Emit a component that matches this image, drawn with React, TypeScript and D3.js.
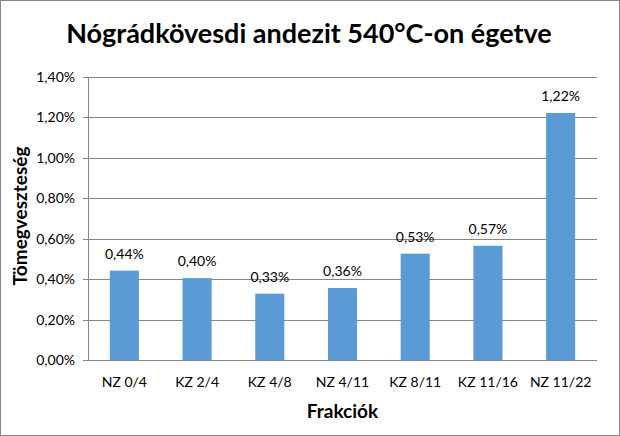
import React from "react";
import * as d3 from "d3";

const categories = ["NZ 0/4", "KZ 2/4", "KZ 4/8", "NZ 4/11", "KZ 8/11", "KZ 11/16", "NZ 11/22"];
const values = [0.442, 0.405, 0.328, 0.356, 0.526, 0.565, 1.222];
const labels = ["0,44%", "0,40%", "0,33%", "0,36%", "0,53%", "0,57%", "1,22%"];
const yTicks = [0, 0.2, 0.4, 0.6, 0.8, 1.0, 1.2, 1.4];

const W = 620, H = 436;
const left = 88, right = 597, top = 77, bottom = 360;
const font = "Lato, 'Open Sans', sans-serif";

export default function App() {
  const x = d3.scaleBand<string>().domain(categories).range([left, right]).paddingInner(0.6).paddingOuter(0.3);
  const y = d3.scaleLinear().domain([0, 1.4]).range([bottom, top]);
  const fmt = (v: number) => d3.format(".2f")(v).replace(".", ",") + "%";
  return (
    <svg width={W} height={H} style={{ position: "absolute", left: 0, top: 0 }} xmlns="http://www.w3.org/2000/svg">
      <rect x={0.5} y={0.5} width={W - 1} height={H - 1} fill="#fff" stroke="#868686" />
      <text x={W / 2 - 1} y={43} textAnchor="middle" fontFamily={font} fontWeight="bold" fontSize={27} fill="#000">
        Nógrádkövesdi andezit 540°C-on égetve
      </text>
      {yTicks.map((t) => (
        <g key={t}>
          <line x1={left - 5} x2={right} y1={Math.round(y(t)) + 0.5} y2={Math.round(y(t)) + 0.5} stroke="#868686" strokeWidth={1} />
          <text x={75} y={y(t) + 5} textAnchor="end" fontFamily={font} fontSize={14} fill="#000">
            {fmt(t)}
          </text>
        </g>
      ))}
      <line x1={left + 0.5} x2={left + 0.5} y1={top} y2={bottom} stroke="#868686" />
      {categories.map((c, i) => (
        <g key={c}>
          <rect x={x(c)!} y={y(values[i])} width={x.bandwidth()} height={bottom - y(values[i])} fill="#5b9bd5" />
          <text x={x(c)! + x.bandwidth() / 2} y={y(values[i]) - 12} textAnchor="middle" fontFamily={font} fontSize={14} fill="#000">
            {labels[i]}
          </text>
          <text x={x(c)! + x.bandwidth() / 2} y={387} textAnchor="middle" fontFamily={font} fontSize={14} fill="#000">
            {c}
          </text>
        </g>
      ))}
      <text x={(left + right) / 2} y={418} textAnchor="middle" fontFamily={font} fontWeight="bold" fontSize={19} fill="#000">
        Frakciók
      </text>
      <text transform={`translate(27,216) rotate(-90)`} textAnchor="middle" fontFamily={font} fontWeight="bold" fontSize={19} fill="#000">
        Tömegveszteség
      </text>
    </svg>
  );
}
